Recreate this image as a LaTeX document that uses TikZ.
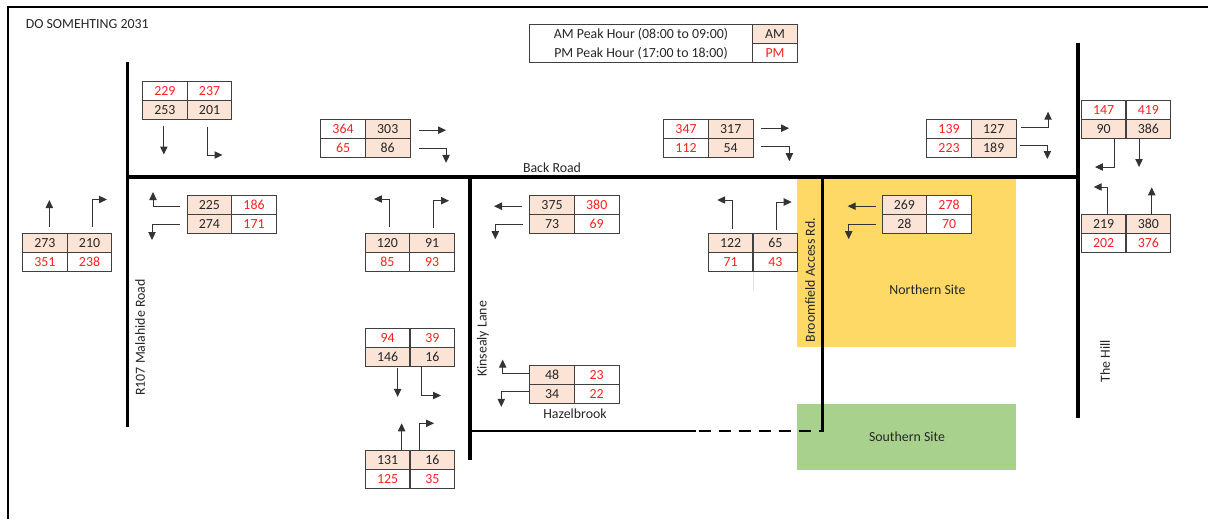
\documentclass[tikz,border=0pt]{standalone}
\usepackage{fontspec}
\setmainfont{Carlito}
\usetikzlibrary{arrows.meta}
\definecolor{peach}{HTML}{FBE4D5}
\definecolor{redtext}{HTML}{FF2020}
\definecolor{sitenorth}{HTML}{FFD966}
\definecolor{sitesouth}{HTML}{A9D18E}
\tikzset{
    base/.style={font=\fontsize{10.4}{12}\selectfont,text=black!85,inner sep=0pt},
    cell/.style={base,draw=black!75,line width=0.75pt,outer sep=0pt,minimum width=33.5pt,minimum height=14.25pt,anchor=north west},
    am/.style={cell,fill=peach},
    pm/.style={cell,fill=white,text=redtext},
    amtop/.style={cella/.style=am,cellb/.style=am,cellc/.style=pm,celld/.style=pm},
    ambot/.style={cella/.style=pm,cellb/.style=pm,cellc/.style=am,celld/.style=am},
    amleft/.style={cella/.style=am,cellb/.style=pm,cellc/.style=am,celld/.style=pm},
    amright/.style={cella/.style=pm,cellb/.style=am,cellc/.style=pm,celld/.style=am},
    road/.style={line width=2.3pt},
    flow/.style={draw=black!80,line width=0.75pt,-{Triangle[length=6pt,width=5.5pt]}},
}
% pattern, name, left, top, then the four counts
\newcommand{\countbox}[8]{
    \begin{scope}[#1]
    \node[cella] (#2a) at (#3,#4) {#5};
    \node[cellb] (#2b) at (#3+44.7,#4) {#6};
    \node[cellc] (#2c) at (#3,#4+19) {#7};
    \node[celld] (#2d) at (#3+44.7,#4+19) {#8};
    \end{scope}
}
\begin{document}
\begin{tikzpicture}[x=0.75pt,y=-0.75pt]
    \useasboundingbox (0,0) rectangle (1208,519);
    \draw[line width=1.5pt] (8,519) -- (8,7) -- (1208,7);
    % sites
    \fill[sitenorth] (797,177) rectangle (1016,347);
    \fill[sitesouth] (797,404) rectangle (1016,470);
    % roads
    \draw[road] (127.5,62) -- (127.5,427);
    \draw[road] (126.5,177) -- (1079,177);
    \draw[road] (470,176) -- (470,460);
    \draw[road] (822.3,176) -- (822.3,432);
    \draw[road] (1078,42.5) -- (1078,418);
    \draw[line width=1.7pt] (470,431) -- (696,431);
    \draw[line width=2pt,dash pattern=on 9pt off 6pt] (699,431) -- (823,431);
    \draw[black!12,line width=0.75pt] (753,272) -- (753,290);
    % labels
    \node[base,anchor=west] (title) at (25.5,24) {DO SOMEHTING 2031};
    \node[base] (backroad) at (552,168) {Back Road};
    \node[base,rotate=90] (malahide) at (140,337.5) {R107 Malahide Road};
    \node[base,rotate=90] (kinsealy) at (483,339) {Kinsealy Lane};
    \node[base,rotate=90] (broomfield) at (810,280) {Broomfield Access Rd.};
    \node[base,rotate=90] (thehill) at (1105,361) {The Hill};
    \node[base] (northsite) at (927.5,290) {Northern Site};
    \node[base] (southsite) at (907,437) {Southern Site};
    \node[base] (hazelbrook) at (575,414) {Hazelbrook};
    % key
    \node[cell,minimum width=167.25pt,minimum height=28.5pt] (keybox) at (529.7,24.3) {};
    \node[base] (keyamtext) at (641,34.7) {AM Peak Hour (08:00 to 09:00)};
    \node[base] (keypmtext) at (641,53.7) {PM Peak Hour (17:00 to 18:00)};
    \node[am] (keya) at (752.7,24.3) {AM};
    \node[pm] (keyp) at (752.7,43.3) {PM};
    % counts
    \countbox{ambot}{nw}{142.5}{81.5}{229}{237}{253}{201}
    \countbox{amtop}{wt}{22.5}{233.5}{273}{210}{351}{238}
    \countbox{amleft}{ws}{187}{195.5}{225}{186}{274}{171}
    \countbox{amright}{mw}{320.7}{119.7}{364}{303}{65}{86}
    \countbox{amtop}{ks}{365}{233.7}{120}{91}{85}{93}
    \countbox{amleft}{ke}{529.7}{195.7}{375}{380}{73}{69}
    \countbox{ambot}{ln}{365.3}{328.2}{94}{39}{146}{16}
    \countbox{amtop}{ls}{365.3}{450.3}{131}{16}{125}{35}
    \countbox{amleft}{hz}{529.7}{365.7}{48}{23}{34}{22}
    \countbox{amright}{me}{663.7}{119.7}{347}{317}{112}{54}
    \countbox{amtop}{bs}{708.3}{233.7}{122}{65}{71}{43}
    \countbox{amleft}{be}{882}{195.7}{269}{278}{28}{70}
    \countbox{amright}{hw}{926.7}{119.7}{139}{127}{223}{189}
    \countbox{ambot}{hn}{1081.3}{100.3}{147}{419}{90}{386}
    \countbox{amtop}{hs}{1081.3}{214.7}{219}{380}{202}{376}
    % turning arrows
    \draw[flow] ([shift={(-1,6.5)}]nwc.south) -- ++(0,28.5);
    \draw[flow] ([shift={(-2,7.5)}]nwd.south) -- ++(0,28) -- ++(15,0);
    \draw[flow] ([shift={(4.5,-6.5)}]wta.north) -- ++(0,-27);
    \draw[flow] ([shift={(2.5,-6.5)}]wtb.north) -- ++(0,-27.5) -- ++(15,0);
    \draw[flow] ([shift={(-7,1)}]wsa.west) -- ++(-27,0) -- ++(0,-14);
    \draw[flow] ([shift={(-7.5,0)}]wsc.west) -- ++(-27.5,0) -- ++(0,16);
    \draw[flow] ([shift={(8.7,1)}]mwb.east) -- ++(27.3,0);
    \draw[flow] ([shift={(8.7,0)}]mwd.east) -- ++(27.3,0) -- ++(0,14.7);
    \draw[flow] ([shift={(2.6,-6.7)}]ksa.north) -- ++(0,-28) -- ++(-16,0);
    \draw[flow] ([shift={(1.7,-5.7)}]ksb.north) -- ++(0,-27.3) -- ++(15.3,0);
    \draw[flow] ([shift={(-7.7,1)}]kea.west) -- ++(-28,0);
    \draw[flow] ([shift={(-6.7,0)}]kec.west) -- ++(-27.7,0) -- ++(0,15);
    \draw[flow] ([shift={(10,2)}]lnc.south) -- ++(0,28.7);
    \draw[flow] ([shift={(-10.6,0)}]lnd.south) -- ++(0,29.3) -- ++(19.3,0);
    \draw[flow] ([shift={(14,0)}]lsa.north) -- ++(0,-27);
    \draw[flow] ([shift={(-13,0)}]lsb.north) -- ++(0,-27) -- ++(14.7,0);
    \draw[flow] ([shift={(0,-2)}]hza.west) -- ++(-27,0) -- ++(0,-13.6);
    \draw[flow] ([shift={(0,-3)}]hzc.west) -- ++(-28.4,0) -- ++(0,15.7);
    \draw[flow] ([shift={(8,-1)}]meb.east) -- ++(28,0);
    \draw[flow] ([shift={(8,-2)}]med.east) -- ++(28.3,0) -- ++(0,15);
    \draw[flow] ([shift={(2.3,-4.7)}]bsa.north) -- ++(0,-29) -- ++(-15.7,0);
    \draw[flow] ([shift={(1.4,-3.7)}]bsb.north) -- ++(0,-28) -- ++(15,0);
    \draw[flow] ([shift={(-6.3,1)}]bea.west) -- ++(-28,0);
    \draw[flow] ([shift={(-5.7,0)}]bec.west) -- ++(-27.6,0) -- ++(0,15);
    \draw[flow] ([shift={(4.7,-2.2)}]hwb.east) -- ++(27.3,0) -- ++(0,-15.3);
    \draw[flow] ([shift={(3.7,-3.2)}]hwd.east) -- ++(27.6,0) -- ++(0,14);
    \draw[flow] ([shift={(11,0.7)}]hnc.south) -- ++(0,28) -- ++(-19.7,0);
    \draw[flow] ([shift={(-9.3,0.7)}]hnd.south) -- ++(0,28);
    \draw[flow] ([shift={(4.35,0)}]hsa.north) -- ++(0,-27.7) -- ++(-14.3,0);
    \draw[flow] ([shift={(3.4,0)}]hsb.north) -- ++(0,-27.4);
\end{tikzpicture}
\end{document}
